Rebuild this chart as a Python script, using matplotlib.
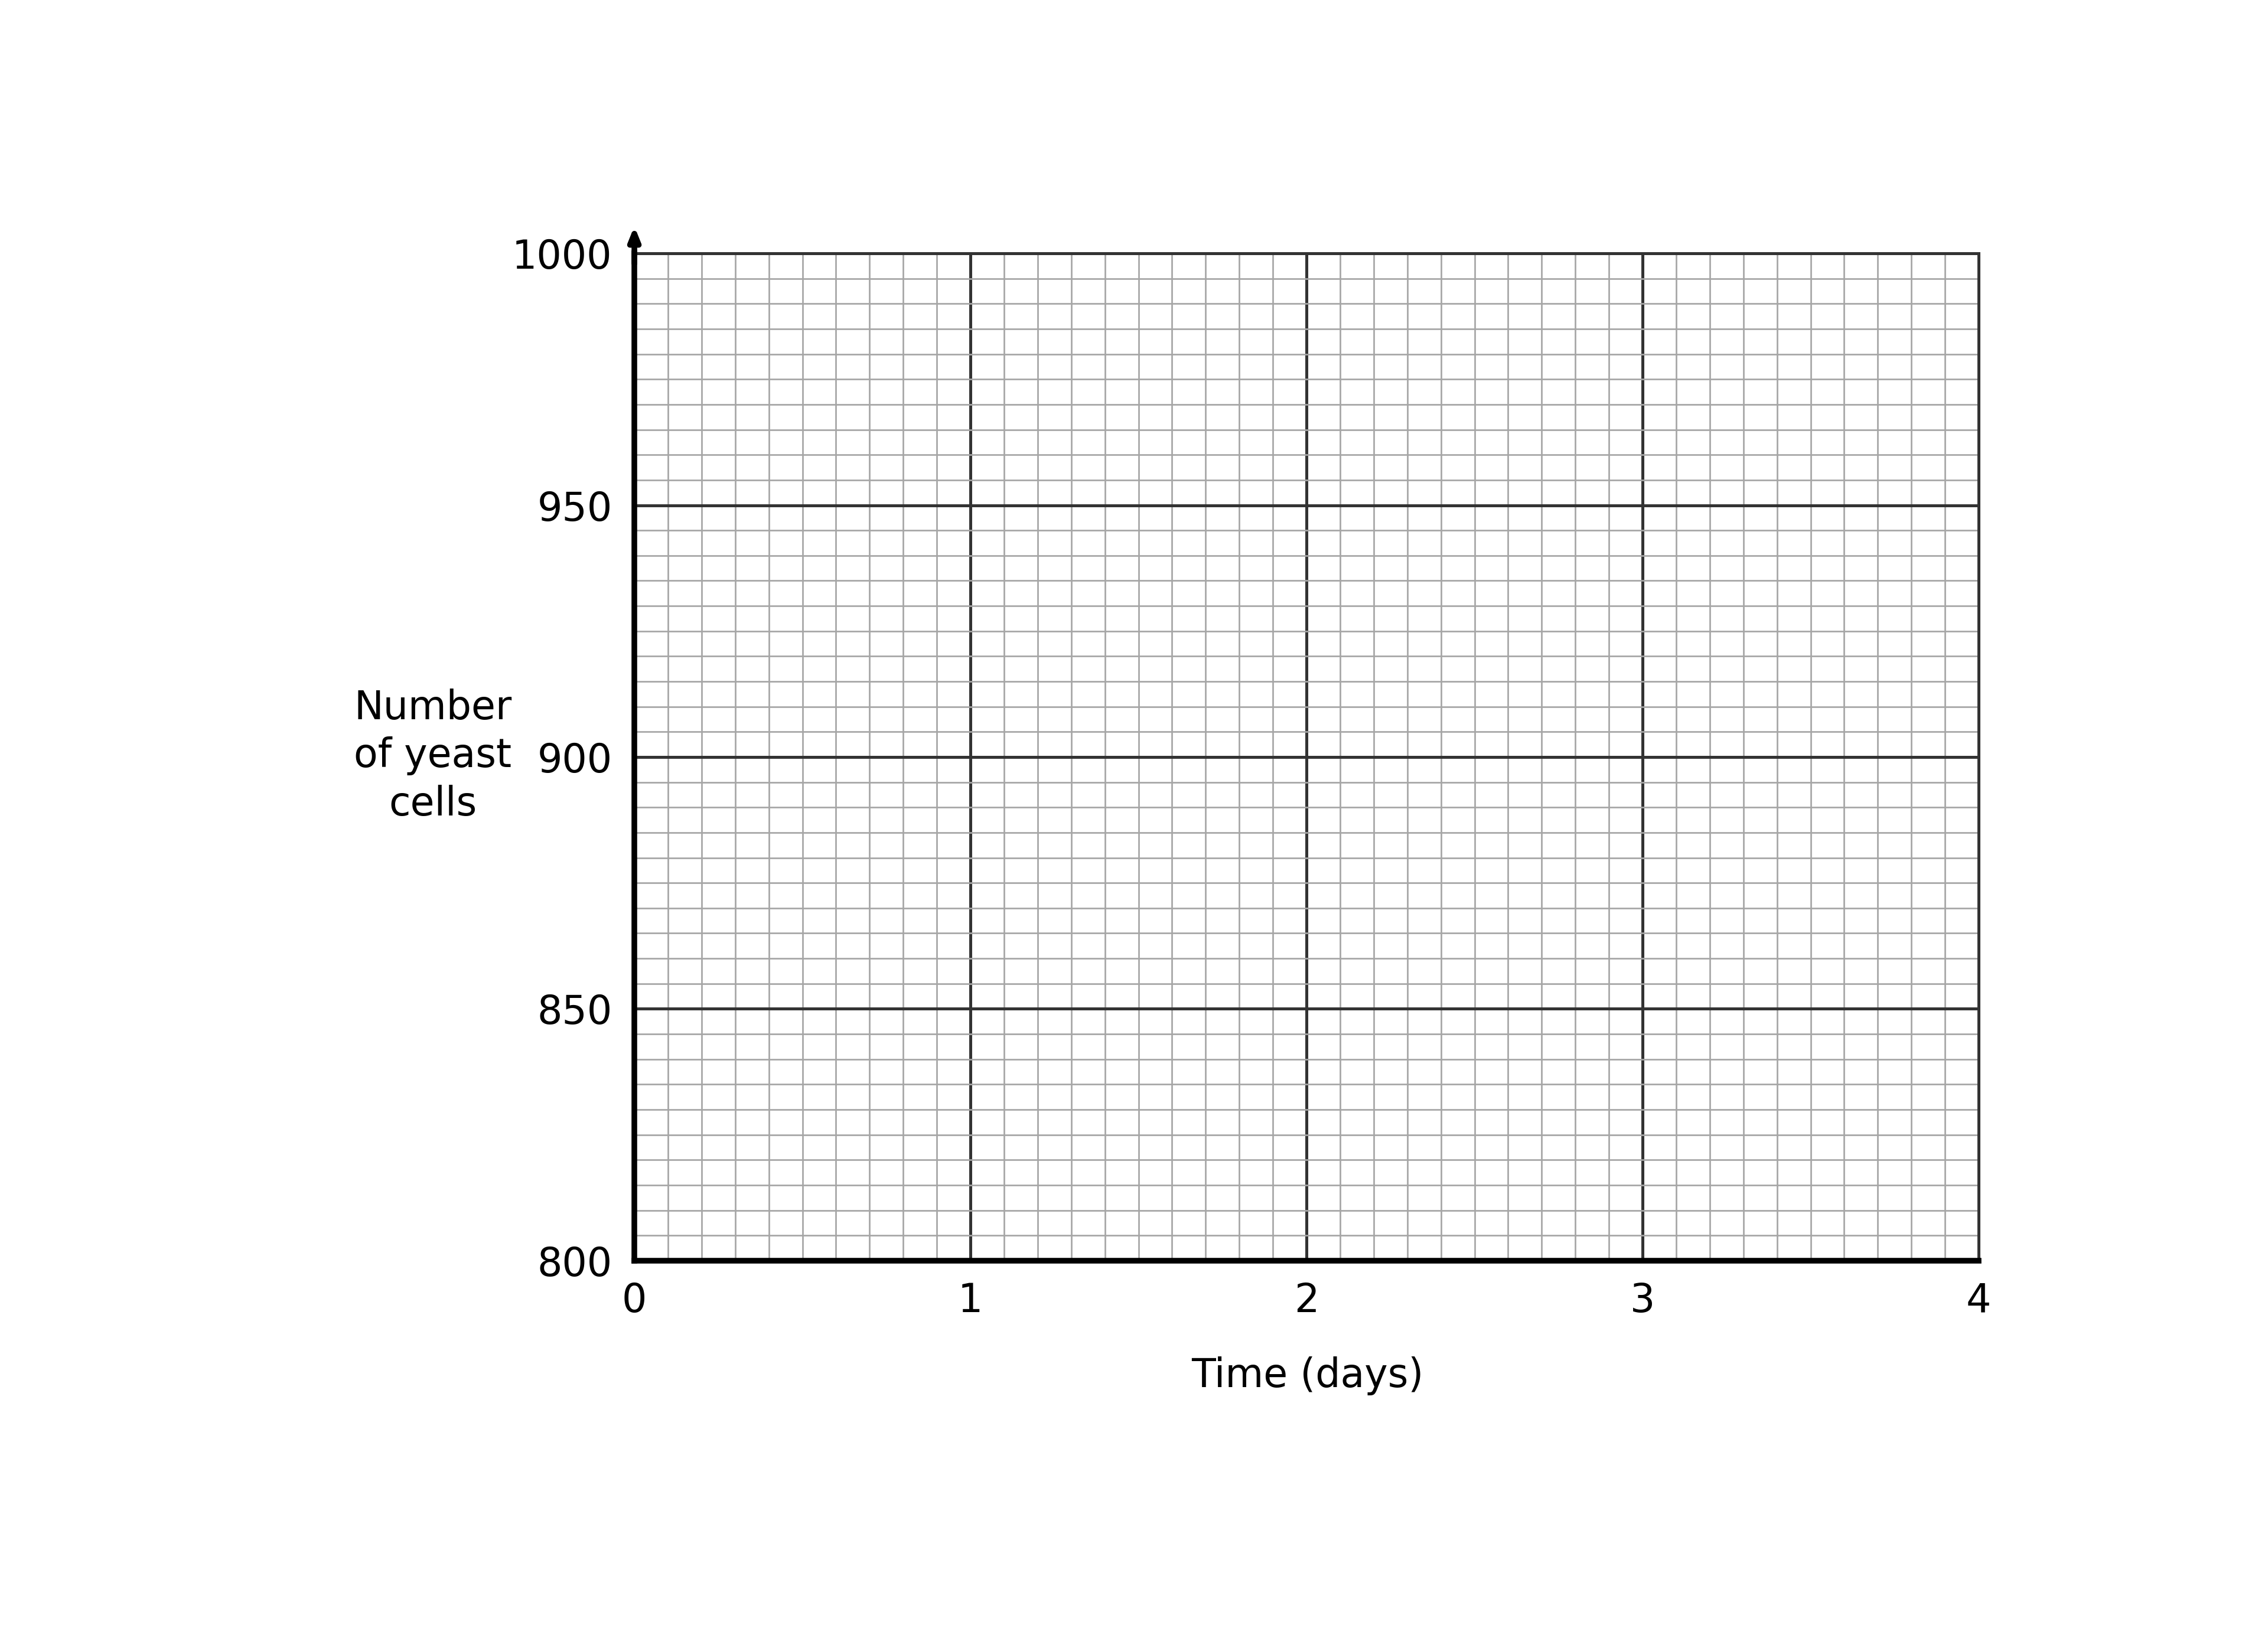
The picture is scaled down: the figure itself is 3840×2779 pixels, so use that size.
import matplotlib
matplotlib.use("Agg")
import matplotlib.pyplot as plt
import numpy as np
from matplotlib.ticker import MultipleLocator

x_ticks = [0, 1, 2, 3, 4]
x_tick_labels = ["0", "1", "2", "3", "4"]
y_ticks = [800, 850, 900, 950, 1000]
y_tick_labels = ["800", "850", "900", "950", "1000"]
x_minor_step = 0.1
y_minor_step = 5
x_label = "Time (days)"
y_label = "Number\nof yeast\ncells"

plt.rcParams['font.family'] = ['DejaVu Sans']

fig = plt.figure(figsize=(12.8, 2779/300), dpi=300)
ax_left, ax_bottom, ax_w, ax_h = 0.2797, 0.2318, 0.5927, 0.6138
ax = fig.add_axes([ax_left, ax_bottom, ax_w, ax_h])

ax.set_xlim(x_ticks[0], x_ticks[-1])
ax.set_ylim(y_ticks[0], y_ticks[-1])
ax.set_xticks(x_ticks)
ax.set_xticklabels(x_tick_labels)
ax.set_yticks(y_ticks)
ax.set_yticklabels(y_tick_labels)
ax.xaxis.set_minor_locator(MultipleLocator(x_minor_step))
ax.yaxis.set_minor_locator(MultipleLocator(y_minor_step))

ax.grid(which='minor', color='#a6a6a6', linewidth=0.65)
ax.grid(which='major', color='#333333', linewidth=1.2)
ax.set_axisbelow(True)

ax.tick_params(which='both', length=0, labelsize=16, colors='black')
ax.tick_params(axis='y', pad=9)
ax.tick_params(axis='x', pad=8.5)
for lbl in ax.get_yticklabels():
    lbl.set_y(lbl.get_position()[1])

for s in ['top', 'right']:
    ax.spines[s].set_color('#333333')
    ax.spines[s].set_linewidth(1.2)
for s in ['left', 'bottom']:
    ax.spines[s].set_color('black')
    ax.spines[s].set_linewidth(2.3)
    ax.spines[s].set_zorder(5)

ax.annotate('', xy=(0, 1.027), xycoords='axes fraction',
            xytext=(0, 0.99), textcoords='axes fraction',
            arrowprops=dict(arrowstyle='-|>,head_length=0.45,head_width=0.18',
                            color='black', lw=2.3, shrinkA=0, shrinkB=0),
            annotation_clip=False)

fig.text(0.1909, 0.5393, y_label, fontsize=16, ha='center', va='center',
         multialignment='center', linespacing=1.3)
fig.text(0.5766, 0.1615, x_label, fontsize=16, ha='center', va='center')

fig.savefig('out.png', dpi=300, facecolor='white')
